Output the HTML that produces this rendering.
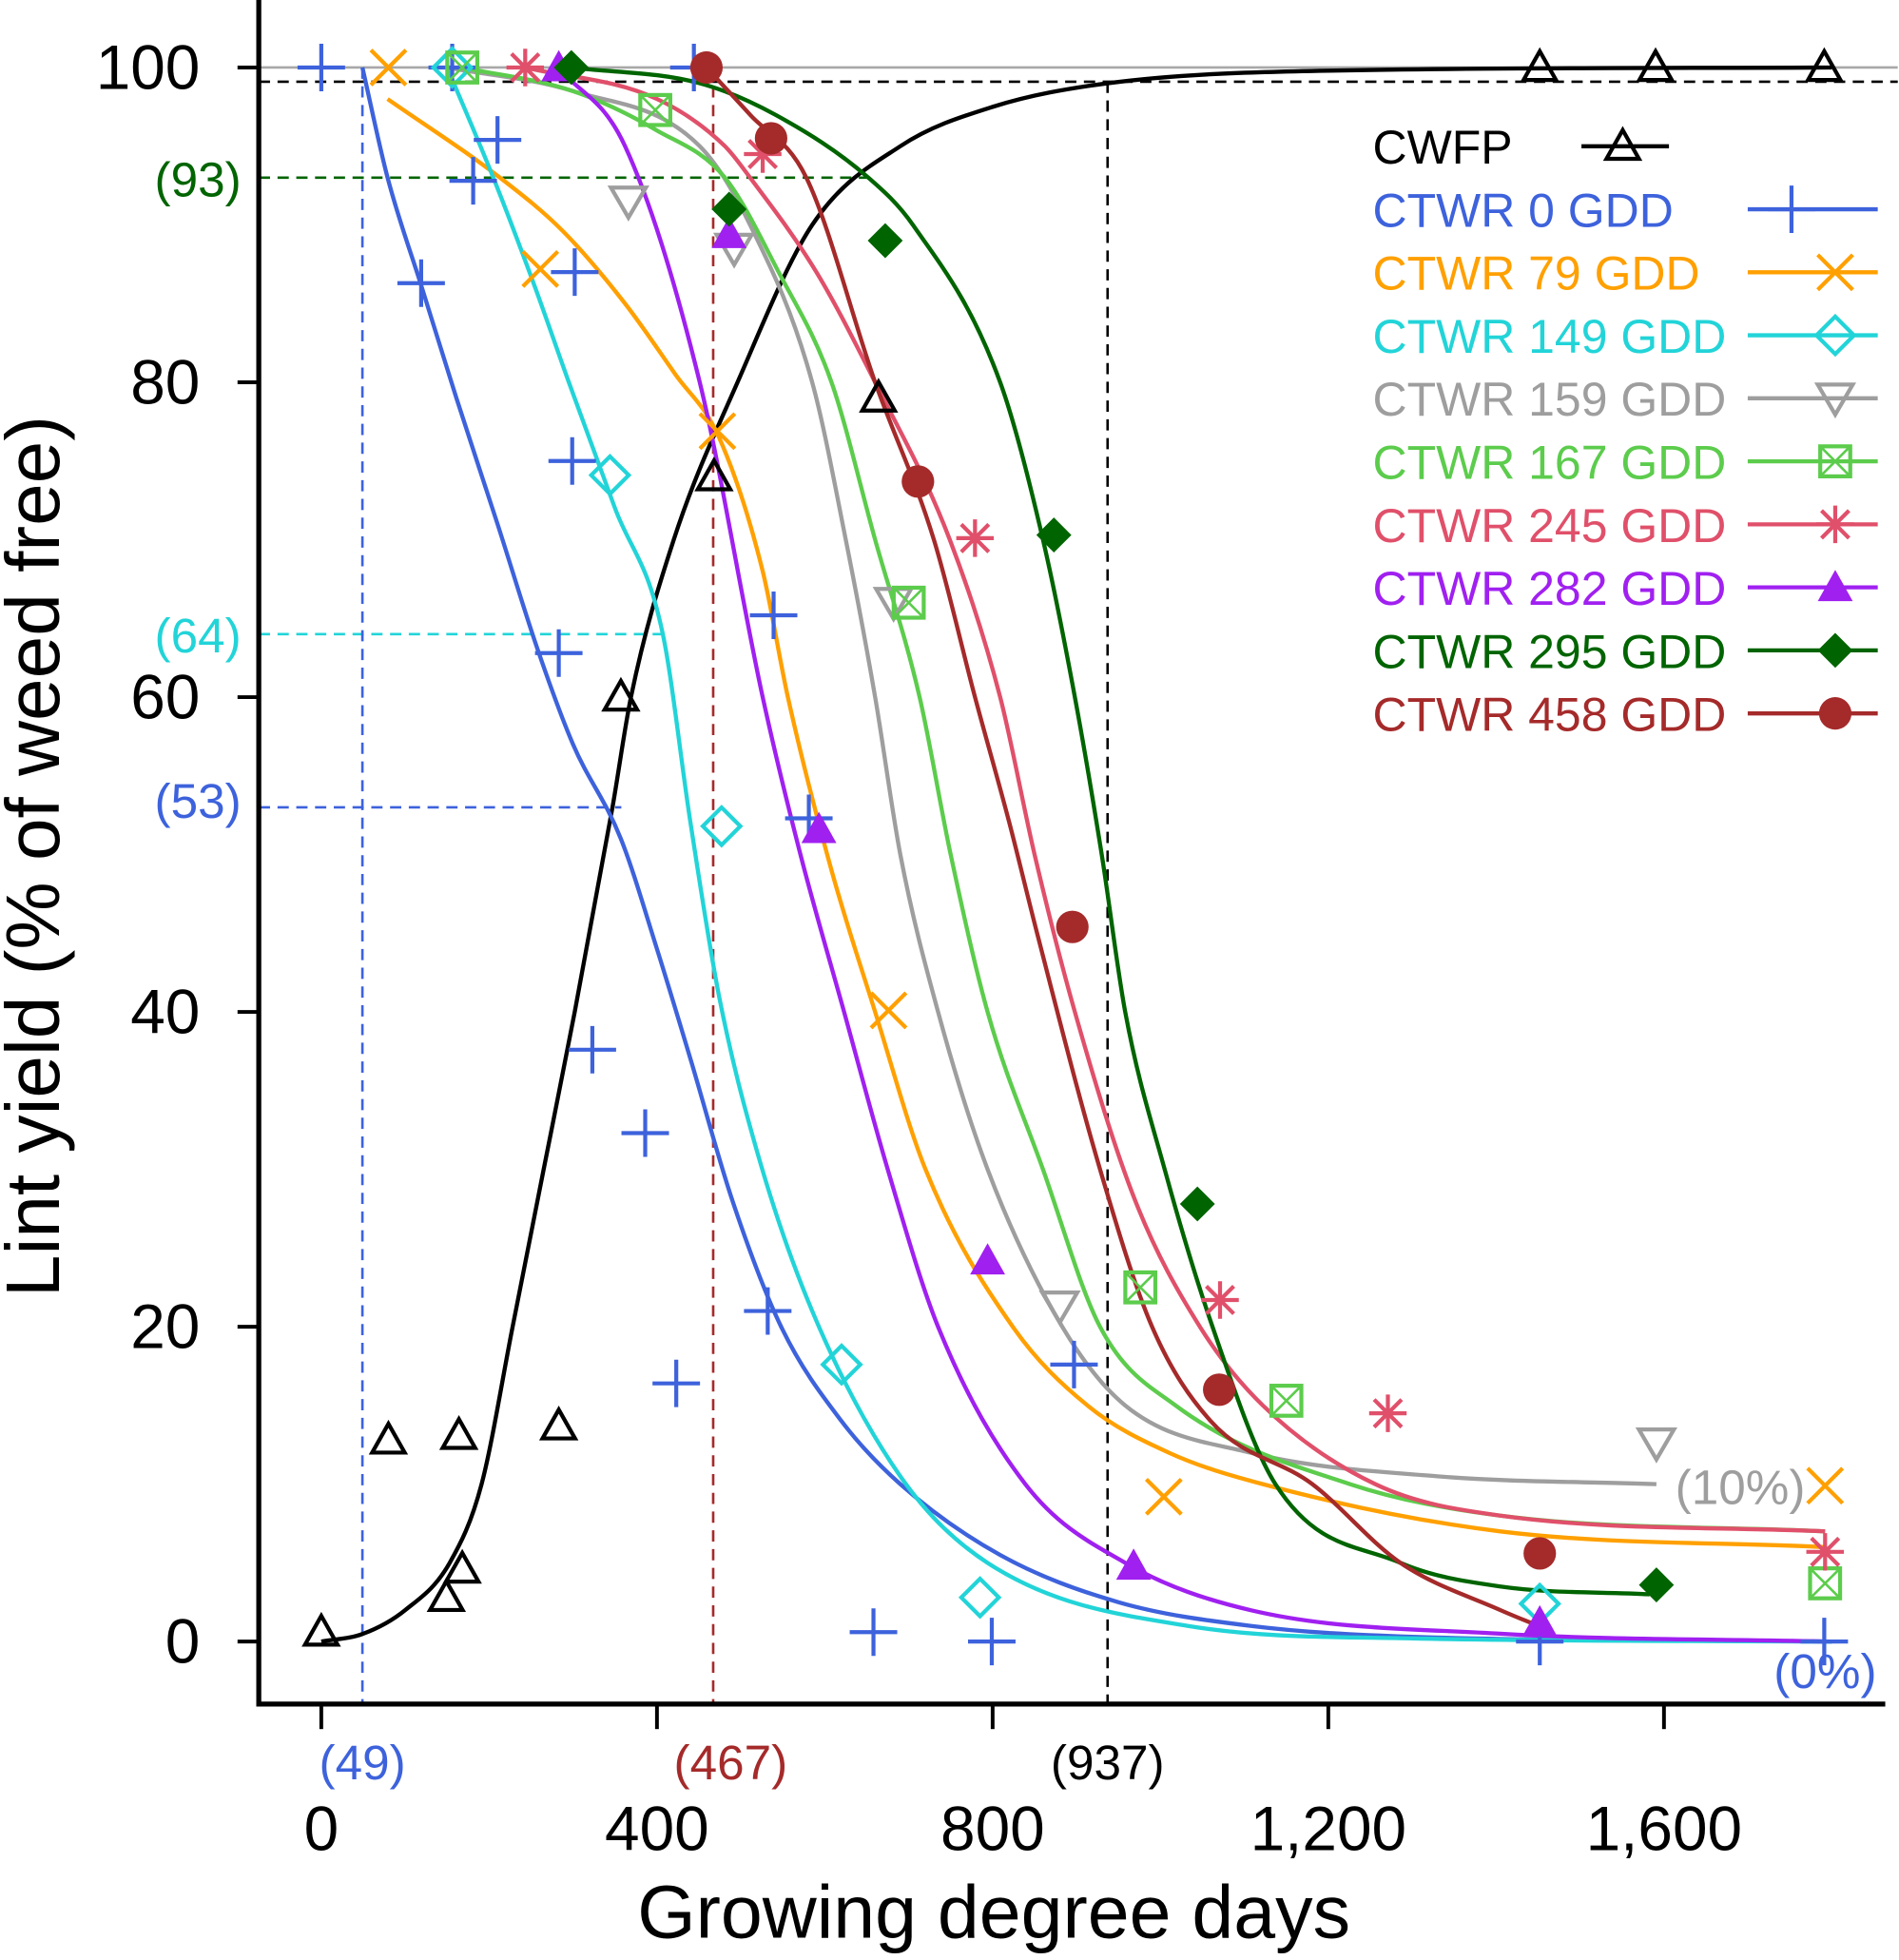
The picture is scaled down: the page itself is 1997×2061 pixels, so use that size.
<!DOCTYPE html>
<html><head><meta charset="utf-8"><style>
html,body{margin:0;padding:0;background:#fff}
svg{display:block}
text{font-family:"Liberation Sans",Arial,sans-serif}
</style></head><body>
<svg id="chart" width="1997" height="2061" viewBox="0 0 1519 1567.7" preserveAspectRatio="none" xmlns="http://www.w3.org/2000/svg">
<g id="refs"></g>
<g id="axes"></g>
<g id="curves"></g>
<g id="points"></g>
<g id="legend"></g>
</svg>
<script>
const xTicks=[0,400,800,1200,1600];
const xTickLabels=["0","400","800","1,200","1,600"];
const yTicks=[0,20,40,60,80,100];
const yTickLabels=["0","20","40","60","80","100"];
const seriesNames=["CWFP","CTWR 0 GDD","CTWR 79 GDD","CTWR 149 GDD","CTWR 159 GDD","CTWR 167 GDD","CTWR 245 GDD","CTWR 282 GDD","CTWR 295 GDD","CTWR 458 GDD"];
const seriesColors=["#000000","#3d62dc","#ffa000","#22d4d8","#9e9e9e","#5ccc4c","#e0506a","#a020f0","#006400","#a52a2a"];
const seriesMarkers=["tri","plus","x","diamond","tridown","boxx","star","trifill","diamondfill","circle"];
// observed points [GDD, %]
const ptsCWFP=[[0,0.6],[80,12.8],[164,13.1],[149,2.8],[168,4.6],[283,13.7],[357,60],[468,74],[664,79],[1452,100],[1590,100],[1791,100]];
const pts0=[[0,100],[156,100],[444,100],[210,95.4],[181,92.8],[119,86.3],[302,87],[299,75],[283,62.8],[539,65.2],[581,52.3],[323,37.6],[386,32.3],[532,21],[423,16.4],[658,0.6],[799,0],[897,17.6],[1452,0],[1791,0]];
const pts79=[[80,100],[261,87.2],[472,76.9],[676,40.1],[1004,9.2],[1792,9.9]];
const pts149=[[156,100],[344,74.1],[477,51.8],[620,17.6],[785,2.8],[1452,2.4]];
const pts159=[[366,91.5],[492,88.5],[682,66],[880,21.3],[1591,12.6]];
const pts167=[[168,100],[398,97.3],[700,66],[976,22.5],[1150,15.3],[1792,3.7]];
const pts245=[[243,100],[526,94.5],[779,70.1],[1071,21.7],[1271,14.5],[1792,5.7]];
const pts282=[[283,100],[486,89.4],[593,51.6],[794,24.2],[968,4.8],[1452,1.2]];
const pts295=[[298,100],[486,91],[672,89],[873,70.3],[1044,27.8],[1591,3.6]];
const pts458=[[459,100],[536,95.5],[711,73.7],[895,45.4],[1070,16],[1452,5.6]];
// fitted curve knots [GDD, %]
const crvCWFP=[[0,0],[50,0.5],[100,2],[153,5],[191,10],[228,20],[265,30],[302,40],[347,53],[369,60],[420,70],[496,80],[585,90],[690,95],[800,97.5],[937,99],[1200,99.8],[1800,100]];
const crv0=[[49,100],[79,93],[120,86],[161,79],[210,71],[258,63],[300,57],[357,51],[400,44],[440,37],[490,28],[548,20],[620,14],[690,10],[809,5.5],[950,2.5],[1107,1],[1300,0.3],[1800,0]];
const crv149=[[150,100],[205,93],[255,86],[295,80],[350,72],[407,64],[440,52],[474,41],[520,31],[585,21],[690,10.5],[794,5],[1032,1],[1300,0.2],[1800,0]];
const crv79=[[79,98],[213,93],[288,89.6],[362,85],[422,80.5],[474,76.5],[526,68],[556,60],[608,49],[660,40],[720,30],[824,20],[913,15],[1010,12],[1122,10],[1405,7],[1792,6]];
const crv159=[[150,100],[300,98.5],[451,95],[511,90],[585,80],[625,70],[660,60],[690,50],[735,40],[794,30],[883,20],[958,15],[1107,12],[1330,10.5],[1591,10]];
const crv167=[[168,100],[300,98.5],[400,96],[481,93],[545,87],[608,80],[660,70],[713,60],[750,50],[794,40],[860,30],[928,20],[1018,15],[1226,10],[1405,8],[1792,7]];
const crv245=[[243,100],[400,98],[481,95],[511,93],[590,87],[660,80],[749,70],[809,60],[850,50],[898,40],[970,28],[1047,20],[1122,15],[1256,10],[1405,8],[1792,7]];
const crv282=[[282,100],[362,95],[451,80],[526,60],[571,50],[623,40],[675,30],[735,20],[839,10],[958,5],[1107,2],[1405,0.5],[1792,0]];
const crv295=[[298,100],[451,99],[541,97],[652,93],[705,90],[809,80],[860,70],[898,60],[930,50],[958,40],[1005,30],[1062,20],[1137,10],[1286,5],[1405,3.5],[1583,3]];
const crv458=[[459,100],[511,97],[578,93],[660,80],[730,70],[779,60],[820,52],[853,45],[928,30],[990,20],[1060,14],[1181,10],[1286,5],[1405,2],[1450,1]];

const X=v=>257+v*268.5/400;
const Y=v=>1313-v*12.59;
const NS="http://www.w3.org/2000/svg";
function mk(tag,attrs,parent){const e=document.createElementNS(NS,tag);for(const k in attrs)e.setAttribute(k,attrs[k]);parent.appendChild(e);return e;}
const gRef=document.getElementById('refs'),gAx=document.getElementById('axes'),gC=document.getElementById('curves'),gP=document.getElementById('points'),gL=document.getElementById('legend');

function refLine(x1,y1,x2,y2,c,dash,name){const l=mk('line',{x1:x1,y1:y1,x2:x2,y2:y2,stroke:c,'stroke-width':2,'stroke-dasharray':dash?'9,6':'none'},gRef);

}
refLine(207,Y(100),1518,Y(100),'#a8a8a8',false,'weed-free-line');
refLine(207,Y(99.1),1518,Y(99.1),'#000',true,'cwfp-99-line');
refLine(207,Y(93),700,Y(93),'#006400',true,'h-line-93');
refLine(207,Y(64),530,Y(64),'#22d4d8',true,'h-line-64');
refLine(207,Y(53),497,Y(53),'#3d62dc',true,'h-line-53');
refLine(X(49),Y(100),X(49),1363,'#3d62dc',true,'v-line-49');
refLine(X(467),Y(100),X(467),1363,'#a52a2a',true,'v-line-467');
refLine(X(937),Y(99.1),X(937),1363,'#000',true,'v-line-937');
function txt(x,y,s,size,c,anchor,name,parent){const t=mk('text',{x:x,y:y,'font-size':size,fill:c,'text-anchor':anchor||'start'},parent||gRef);t.textContent=s;

return t;}
txt(193,157,'(93)',39,'#006400','end','label-93');
txt(193,522,'(64)',39,'#22d4d8','end','label-64');
txt(193,654,'(53)',39,'#3d62dc','end','label-53');
txt(X(49),1423,'(49)',39,'#3d62dc','middle','label-49');
txt(X(467)+14,1423,'(467)',39,'#a52a2a','middle','label-467');
txt(X(937),1423,'(937)',39,'#000','middle','label-937');
txt(1392,1203,'(10%)',39,'#9e9e9e','middle','label-10pct');
txt(1460,1350,'(0%)',39,'#3d62dc','middle','label-0pct');

mk('path',{d:'M207,0 L207,1363 L1508,1363',fill:'none',stroke:'#000','stroke-width':4},gAx);
yTicks.forEach((v,i)=>{const l=mk('line',{x1:190,x2:207,y1:Y(v),y2:Y(v),stroke:'#000','stroke-width':3},gAx);


txt(160,Y(v)+17,yTickLabels[i],50,'#000','end','y-tick-label',gAx);});
xTicks.forEach((v,i)=>{const l=mk('line',{x1:X(v),x2:X(v),y1:1363,y2:1383,stroke:'#000','stroke-width':3},gAx);


txt(X(v),1480,xTickLabels[i],50,'#000','middle','x-tick-label',gAx);});
txt(795,1550,'Growing degree days',60,'#000','middle','x-axis-title',gAx);
const yt=txt(0,0,'Lint yield (% of weed free)',61,'#000','middle','y-axis-title',gAx);
yt.setAttribute('transform','translate(47,685) rotate(-90)');

function pathFrom(k){const p=k.map(d=>[X(d[0]),Y(d[1])]);const n=p.length;
const dx=[],m=[],t=new Array(n);
for(let i=0;i<n-1;i++){dx[i]=p[i+1][0]-p[i][0];m[i]=(p[i+1][1]-p[i][1])/dx[i];}
t[0]=m[0];t[n-1]=m[n-2];
for(let i=1;i<n-1;i++){t[i]=(m[i-1]*m[i]<=0)?0:(m[i-1]+m[i])/2;}
for(let i=0;i<n-1;i++){if(m[i]===0){t[i]=0;t[i+1]=0;continue;}
const a=t[i]/m[i],b=t[i+1]/m[i],s=a*a+b*b;if(s>9){const tau=3/Math.sqrt(s);t[i]=tau*a*m[i];t[i+1]=tau*b*m[i];}}
let s='M'+p[0][0]+','+p[0][1];
for(let i=0;i<n-1;i++){const h=dx[i]/3;s+=' C'+(p[i][0]+h)+','+(p[i][1]+t[i]*h)+' '+(p[i+1][0]-h)+','+(p[i+1][1]-t[i+1]*h)+' '+p[i+1][0]+','+p[i+1][1];}
return s;}
const curves=[crvCWFP,crv0,crv79,crv149,crv159,crv167,crv245,crv282,crv295,crv458];
const pts=[ptsCWFP,pts0,pts79,pts149,pts159,pts167,pts245,pts282,pts295,pts458];
curves.forEach((k,i)=>{const p=mk('path',{d:pathFrom(k),fill:'none',stroke:seriesColors[i],'stroke-width':3.3},gC);

});

function marker(type,x,y,c,parent){const g=mk('g',{},parent);const sw=3.2;
if(type==='tri')mk('path',{d:`M${x},${y-13} L${x+13},${y+10} L${x-13},${y+10}Z`,fill:'none',stroke:c,'stroke-width':sw},g);
else if(type==='trifill')mk('path',{d:`M${x},${y-14} L${x+14},${y+11} L${x-14},${y+11}Z`,fill:c},g);
else if(type==='tridown')mk('path',{d:`M${x-14},${y-11} L${x+14},${y-11} L${x},${y+13}Z`,fill:'none',stroke:c,'stroke-width':sw},g);
else if(type==='plus')mk('path',{d:`M${x-19},${y} L${x+19},${y} M${x},${y-19} L${x},${y+19}`,stroke:c,'stroke-width':sw},g);
else if(type==='x')mk('path',{d:`M${x-14},${y-14} L${x+14},${y+14} M${x+14},${y-14} L${x-14},${y+14}`,stroke:c,'stroke-width':sw},g);
else if(type==='diamond')mk('path',{d:`M${x},${y-15} L${x+15},${y} L${x},${y+15} L${x-15},${y}Z`,fill:'none',stroke:c,'stroke-width':sw},g);
else if(type==='diamondfill')mk('path',{d:`M${x},${y-14} L${x+14},${y} L${x},${y+14} L${x-14},${y}Z`,fill:c},g);
else if(type==='boxx'){mk('rect',{x:x-12,y:y-12,width:24,height:24,fill:'none',stroke:c,'stroke-width':sw},g);mk('path',{d:`M${x-12},${y-12} L${x+12},${y+12} M${x+12},${y-12} L${x-12},${y+12}`,stroke:c,'stroke-width':2},g);}
else if(type==='star')mk('path',{d:`M${x-15},${y} L${x+15},${y} M${x},${y-15} L${x},${y+15} M${x-11},${y-11} L${x+11},${y+11} M${x+11},${y-11} L${x-11},${y+11}`,stroke:c,'stroke-width':sw},g);
else if(type==='circle')mk('circle',{cx:x,cy:y,r:13,fill:c},g);
return g;}
pts.forEach((arr,i)=>{arr.forEach(d=>{const m=marker(seriesMarkers[i],X(d[0]),Y(d[1]),seriesColors[i],gP);

});});

seriesNames.forEach((n,i)=>{const y=117+i*50.4;const g=mk('g',{},gL);


txt(1098,y+14,n,38,seriesColors[i],'start','legend-label',g);
const x1=i===0?1265:1398,x2=i===0?1335:1502,mx=i===0?1298:(i===1?1433:1468);
mk('line',{x1:x1,x2:x2,y1:y,y2:y,stroke:seriesColors[i],'stroke-width':3.3},g);
marker(seriesMarkers[i],mx,y,seriesColors[i],g);});
</script>
</body></html>
